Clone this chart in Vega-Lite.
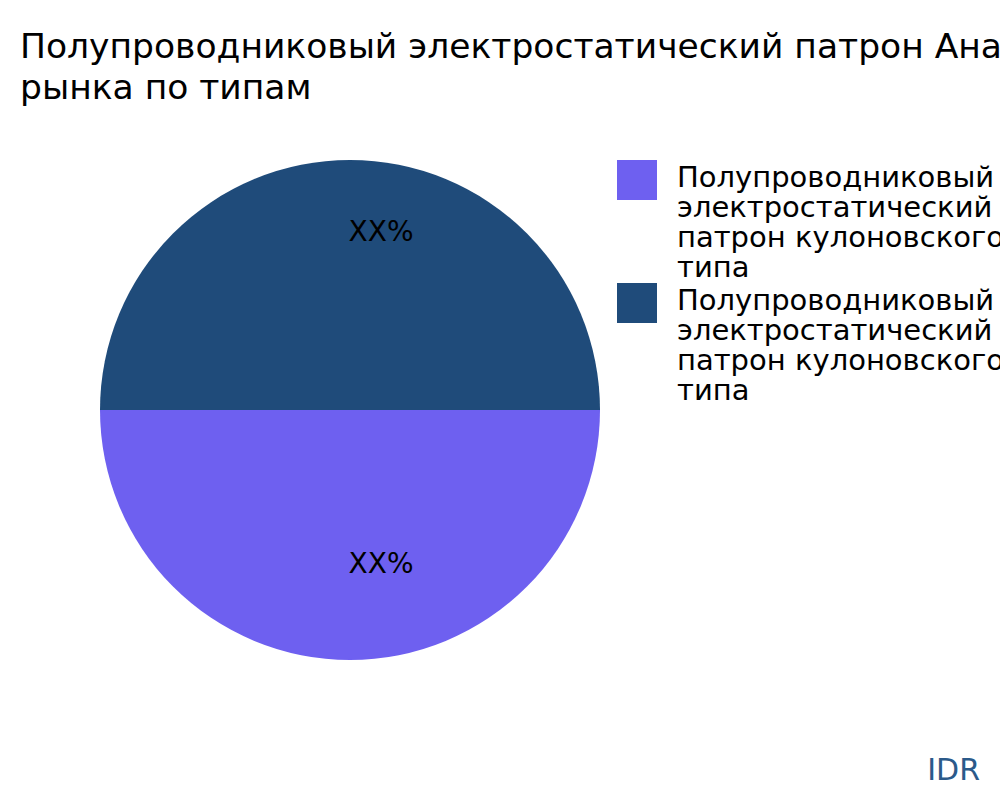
{
  "$schema": "https://vega.github.io/schema/vega-lite/v6.json",
  "width": 660,
  "height": 540,
  "autosize": {"type": "none"},
  "padding": {"left": 20, "top": 140, "right": 320, "bottom": 120},
  "background": "white",
  "title": {
    "text": ["Полупроводниковый электростатический патрон Анализ размера", "рынка по типам"],
    "anchor": "start",
    "frame": "group",
    "font": "DejaVu Sans",
    "fontSize": 34.5,
    "fontWeight": "normal",
    "lineHeight": 41,
    "color": "#000000",
    "offset": 34
  },
  "data": {
    "values": [
      {"segment": "1", "type": "Полупроводниковый электростатический патрон кулоновского типа", "share": 50, "label": "XX%"},
      {"segment": "2", "type": "Полупроводниковый электростатический патрон кулоновского типа", "share": 50, "label": "XX%"}
    ]
  },
  "encoding": {
    "theta": {
      "field": "share",
      "type": "quantitative",
      "stack": true,
      "scale": {"range": [1.5707963, 7.8539816]}
    },
    "order": {"field": "segment", "type": "ordinal"},
    "color": {
      "field": "segment",
      "type": "nominal",
      "scale": {"domain": ["1", "2"], "range": ["#6e60f0", "#1f4b7a"]},
      "legend": {
        "orient": "none",
        "legendX": 597,
        "legendY": 20,
        "title": null,
        "padding": 0,
        "symbolType": "square",
        "symbolSize": 1600,
        "symbolStrokeWidth": 0,
        "symbolOpacity": 1,
        "labelOffset": 20,
        "labelFont": "DejaVu Sans",
        "labelFontSize": 29,
        "labelColor": "#000000",
        "labelLimit": 2000,
        "labelBaseline": "top",
        "rowPadding": -6,
        "labelExpr": "['Полупроводниковый', 'электростатический', 'патрон кулоновского', 'типа']",
        "encode": {
          "labels": {"update": {"dy": {"value": -16}, "lineHeight": {"value": 30}}}
        }
      }
    }
  },
  "layer": [
    {
      "mark": {"type": "arc", "outerRadius": 250}
    },
    {
      "mark": {
        "type": "text",
        "radius": 166,
        "dx": 31,
        "dy": -11,
        "font": "DejaVu Sans",
        "fontSize": 28,
        "color": "#000000"
      },
      "encoding": {"text": {"field": "label"}, "color": {"value": "#000000"}}
    },
    {
      "data": {"values": [{"brand": "IDR"}]},
      "mark": {
        "type": "text",
        "x": {"expr": "width + 300"},
        "y": {"expr": "height + 100"},
        "align": "right",
        "baseline": "alphabetic",
        "font": "DejaVu Sans",
        "fontSize": 30,
        "color": "#2b5a8a"
      },
      "encoding": {"text": {"field": "brand"}, "theta": null, "order": null, "color": null}
    }
  ],
  "config": {"view": {"stroke": null}}
}
